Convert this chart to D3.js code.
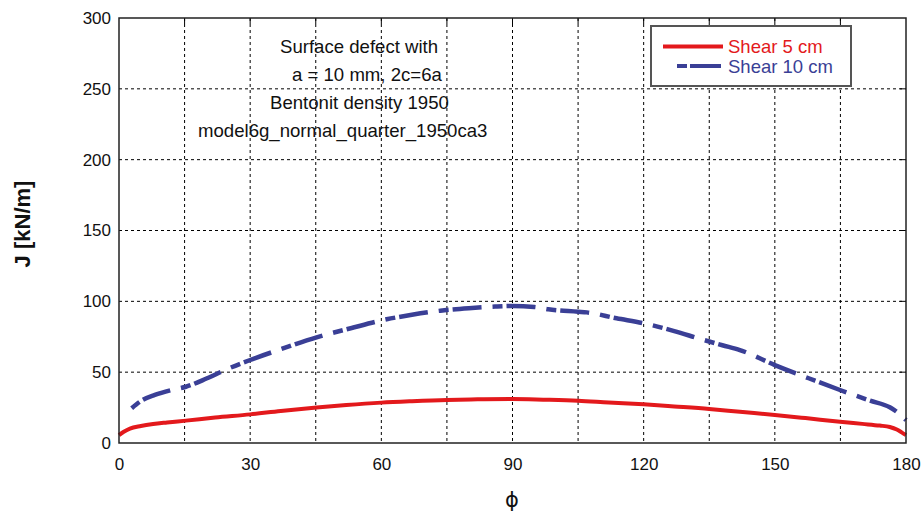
<!DOCTYPE html>
<html><head><meta charset="utf-8">
<script src="https://cdn.jsdelivr.net/npm/d3@7"></script>
<style>body{margin:0;background:#fff}svg{display:block;font-family:"Liberation Sans",Arial,sans-serif}</style>
</head><body><svg id="c" width="922" height="512"></svg>
<script>
const xTicks = [0,30,60,90,120,150,180];
const xGrid = [15,30,45,60,75,90,105,120,135,150,165];
const yTicks = [0,50,100,150,200,250,300];
const shear5Phi = [0,1,2.5,5,7.8,11,15.3,22,30,37,45.2,52,60,67,75,82,90,97,105,112,120,127,135,142,150,157,164.9,170,174,176.3,177.9,179,180];
const shear5J   = [5.6,7.8,10.2,12,13.4,14.5,15.8,18,20.2,22.6,25,26.8,28.5,29.5,30.4,30.8,31,30.6,29.9,28.6,27.3,25.8,24,22,19.8,17.6,15,13.5,12.3,11.3,9.5,7.5,5.6];
const shear10Phi = [2.9,4.8,8.2,12,15.3,20,24.6,30,36.8,45.2,53,61.2,67,73.5,80,86,90,95,98.2,105,107,113.8,120,127,132.9,138,142,150,159.2,164.9,171.8,176.3,178.5,180];
const shear10J   = [24.5,29.2,33.9,37.4,39.7,45.5,52,58.6,66,74.6,81,87.3,90.5,93.4,95.2,96.3,96.7,96,94.4,92.7,92.2,88,84.5,79,73.5,69,65.6,55,44,37.4,29.9,25.2,20.5,16.2];
const legendLabels = ["Shear 5 cm","Shear 10 cm"];
const notes = ["Surface defect with","a = 10 mm, 2c=6a","Bentonit density 1950","model6g_normal_quarter_1950ca3"];

const svg = d3.select("#c");
const L=119,R=906,T=18,B=443;
const x = d3.scaleLinear().domain([0,180]).range([L,R]);
const y = d3.scaleLinear().domain([0,300]).range([B,T]);

// grid
svg.append("g").selectAll("line").data(xGrid).join("line")
  .attr("x1",d=>x(d)).attr("x2",d=>x(d)).attr("y1",T).attr("y2",B)
  .attr("stroke","#000").attr("stroke-width",1).attr("stroke-dasharray","3,3");
svg.append("g").selectAll("line").data(yTicks.slice(1,-1)).join("line")
  .attr("x1",L).attr("x2",R).attr("y1",d=>y(d)).attr("y2",d=>y(d))
  .attr("stroke","#000").attr("stroke-width",1).attr("stroke-dasharray","3,3");

// axes
const xa = svg.append("g").attr("transform",`translate(0,${B})`)
  .call(d3.axisBottom(x).tickValues(xTicks).tickSize(0).tickPadding(15).tickFormat(d3.format("d")));
const ya = svg.append("g").attr("transform",`translate(${L},0)`)
  .call(d3.axisLeft(y).tickValues(yTicks).tickSize(0).tickPadding(8).tickFormat(d3.format("d")));
[xa,ya].forEach(g=>{g.select(".domain").remove();g.selectAll("text").attr("font-size",17).attr("fill","#111").attr("font-family","Liberation Sans, Arial, sans-serif");});
// top inner ticks
svg.append("g").selectAll("line").data(xGrid).join("line")
  .attr("x1",d=>x(d)).attr("x2",d=>x(d)).attr("y1",T).attr("y2",T+6).attr("stroke","#000").attr("stroke-width",1);
svg.append("g").selectAll("line").data(yTicks.slice(1,-1)).join("line")
  .attr("x1",R-6).attr("x2",R).attr("y1",d=>y(d)).attr("y2",d=>y(d)).attr("stroke","#000").attr("stroke-width",1);

// notes
const noteX=[280,292,270,198], noteY=[53,81,109,137];
svg.append("g").selectAll("text").data(notes).join("text")
  .attr("x",(d,i)=>noteX[i]).attr("y",(d,i)=>noteY[i]).attr("font-size",18.6).attr("fill","#111").text(d=>d);

// lines
const line = d3.line().curve(d3.curveMonotoneX);
svg.append("path").datum(shear5Phi.map((p,i)=>[x(p),y(shear5J[i])]))
  .attr("d",line).attr("fill","none").attr("stroke","#e3191c").attr("stroke-width",4);
svg.append("path").datum(shear10Phi.map((p,i)=>[x(p),y(shear10J[i])]))
  .attr("d",line).attr("fill","none").attr("stroke","#3a3f96").attr("stroke-width",4.5)
  .attr("stroke-dasharray","10,4,29,11");

// frame
svg.append("rect").attr("x",L).attr("y",T).attr("width",R-L).attr("height",B-T)
  .attr("fill","none").attr("stroke","#222").attr("stroke-width",1.5);

// legend
svg.append("rect").attr("x",651).attr("y",26).attr("width",200).attr("height",60)
  .attr("fill","#fff").attr("stroke","#555").attr("stroke-width",2);
svg.append("line").attr("x1",663).attr("x2",723).attr("y1",46.5).attr("y2",46.5)
  .attr("stroke","#e3191c").attr("stroke-width",4);
svg.append("line").attr("x1",677).attr("x2",721).attr("y1",66).attr("y2",66)
  .attr("stroke","#3a3f96").attr("stroke-width",4).attr("stroke-dasharray","10,3,31");
const legCol=["#e3191c","#3a3f96"];
svg.append("g").selectAll("text").data(legendLabels).join("text")
  .attr("x",728).attr("y",(d,i)=>[53,73][i]).attr("font-size",18.5).attr("fill",(d,i)=>legCol[i]).text(d=>d);

// titles
svg.append("text").attr("x",512).attr("y",507).attr("text-anchor","middle").attr("font-size",21)
  .attr("font-family","DejaVu Sans, sans-serif").attr("fill","#111").text("ϕ");
svg.append("text").attr("transform","translate(30,224) rotate(-90)").attr("text-anchor","middle")
  .attr("font-size",22).attr("font-weight","bold").attr("fill","#111").text("J [kN/m]");
</script></body></html>
